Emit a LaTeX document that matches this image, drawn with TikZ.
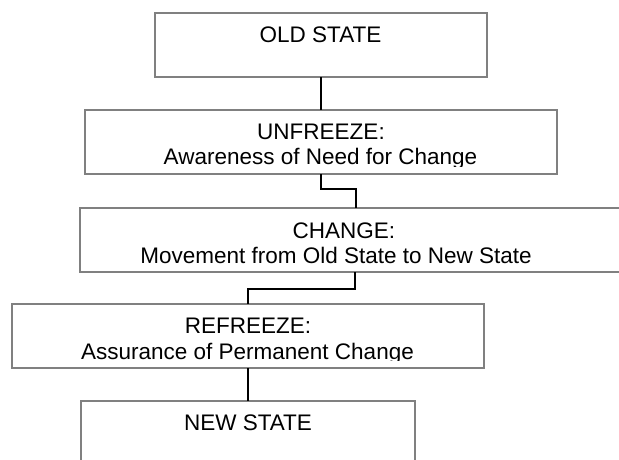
\documentclass[tikz,border=0pt]{standalone}
\usepackage{fontspec}
\setmainfont{Liberation Sans}
\begin{document}
\begin{tikzpicture}[x=1pt,y=-1pt,
  stagebox/.style={draw=boxgray, line width=2pt, fill=white, inner sep=0pt, outer sep=0pt},
  label/.style={inner sep=0pt, anchor=base,
    font=\fontsize{22.5}{25}\selectfont},
  link/.style={draw=black, line width=2pt}]
\definecolor{boxgray}{RGB}{128,128,128}
\useasboundingbox (0,0) rectangle (619,459);
\clip (0,0) rectangle (619,459);
% stage boxes
\path[stagebox] (155,13) rectangle (487,77);
\coordinate (b1b) at (321,77);
\path[stagebox] (85,110) rectangle (557,174);
\coordinate (b2t) at (321,110); \coordinate (b2b) at (321,174);
\path[stagebox] (80,208) rectangle (632,272);
\coordinate (b3t) at (356,208); \coordinate (b3b) at (355,272);
\path[stagebox] (12,304) rectangle (484,368);
\coordinate (b4t) at (248,304); \coordinate (b4b) at (248,368);
\path[stagebox] (81,401) rectangle (415,465);
\coordinate (b5t) at (248,401);
% texts, cut off above the lower border as in a text frame
\node[label] (t1) at (320.5,42.7) {OLD STATE};
\begin{scope}
  \clip (85,110) rectangle (557,166);
  \node[label] (t2a) at (321,139.3) {UNFREEZE:};
  \node[label] (t2b) at (320.5,164) {Awareness of Need for Change};
\end{scope}
\begin{scope}
  \clip (80,208) rectangle (632,264);
  \node[label] (t3a) at (344,238) {CHANGE:};
  \node[label] (t3b) at (336,263) {Movement from Old State to New State};
\end{scope}
\begin{scope}
  \clip (12,304) rectangle (484,360);
  \node[label] (t4a) at (248,333.3) {REFREEZE:};
  \node[label] (t4b) at (247.5,359) {Assurance of Permanent Change};
\end{scope}
\node[label] (t5) at (248,430) {NEW STATE};
% connectors
\draw[link] (b1b) -- (b2t);
\draw[link] (b2b) |- ([yshift=19pt]b3t) -- (b3t);
\draw[link] (b3b) |- ([yshift=15pt]b4t) -- (b4t);
\draw[link] (b4b) -- (b5t);
\end{tikzpicture}
\end{document}
